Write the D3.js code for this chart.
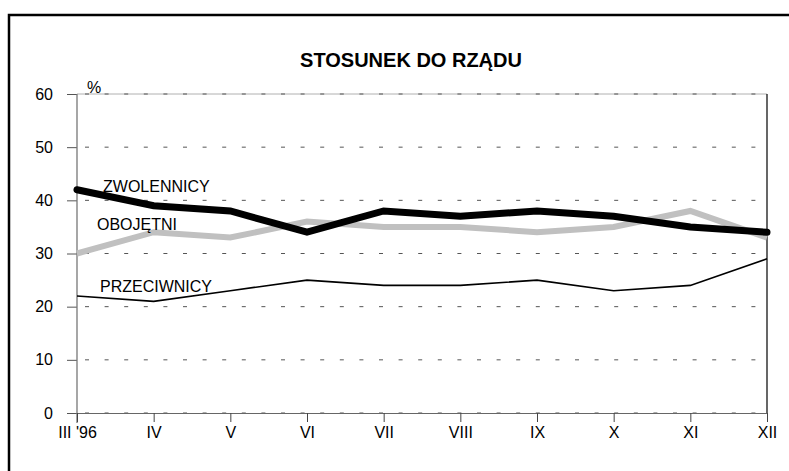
<!DOCTYPE html>
<html>
<head>
<meta charset="utf-8">
<script src="https://cdn.jsdelivr.net/npm/d3@7/dist/d3.min.js"></script>
<style>
    body { margin: 0; background: #fff; }
    text { font-family: "Liberation Sans", Arial, sans-serif; }
</style>
</head>
<body>
<svg id="chart" width="789" height="471"></svg>
<script>
let months = ["III '96", "IV", "V", "VI", "VII", "VIII", "IX", "X", "XI", "XII"];
let zwolennicy = [42, 39, 38, 34, 38, 37, 38, 37, 35, 34];
let obojetni = [30, 34, 33, 36, 35, 35, 34, 35, 38, 33];
let przeciwnicy = [22, 21, 23, 25, 24, 24, 25, 23, 24, 29];
let yTicks = [0, 10, 20, 30, 40, 50, 60];

let svg = d3.select("#chart");

// outer frame (runs off the right and bottom of the picture)
svg.append("rect")
    .attr("x", 9).attr("y", 15)
    .attr("width", 800).attr("height", 480)
    .attr("fill", "none")
    .attr("stroke", "black")
    .attr("stroke-width", 2.5);

let pLeft = 77, pRight = 767, pTop = 94, pBottom = 413;

let x = d3.scalePoint().domain(months).range([pLeft, pRight]);
let y = d3.scaleLinear().domain([0, 60]).range([pBottom, pTop]);

svg.append("text")
    .attr("x", 411).attr("y", 67)
    .attr("text-anchor", "middle")
    .attr("font-size", 20)
    .attr("font-weight", "bold")
    .text("STOSUNEK DO RZĄDU");

// plot border
svg.append("line")
    .attr("x1", pLeft).attr("x2", pRight)
    .attr("y1", pTop).attr("y2", pTop)
    .attr("stroke", "#b0b0b0").attr("stroke-width", 1);
svg.append("line")
    .attr("x1", pRight).attr("x2", pRight)
    .attr("y1", pTop).attr("y2", pBottom)
    .attr("stroke", "black").attr("stroke-width", 1.2);

// dashed grid
svg.append("g")
    .selectAll("line")
    .data(yTicks)
    .enter().append("line")
    .attr("x1", pLeft).attr("x2", pRight)
    .attr("y1", d => y(d)).attr("y2", d => y(d))
    .attr("stroke", "#555")
    .attr("stroke-width", 1)
    .attr("stroke-dasharray", "4,15.6")
    .attr("stroke-dashoffset", -8);

// y axis
let yAxis = svg.append("g")
    .attr("transform", `translate(${pLeft},0)`)
    .call(d3.axisLeft(y).tickValues(yTicks).tickSize(10).tickPadding(14));
yAxis.select(".domain").remove();
yAxis.selectAll(".tick line").attr("stroke", "#555");
yAxis.selectAll("text")
    .attr("font-size", 16)
    .attr("font-family", "Liberation Sans, Arial, sans-serif")
    .attr("fill", "black");
svg.append("line")
    .attr("x1", pLeft).attr("x2", pLeft)
    .attr("y1", pTop).attr("y2", pBottom + 10)
    .attr("stroke", "#777").attr("stroke-width", 1.3);

// x axis
let xAxis = svg.append("g")
    .attr("transform", `translate(0,${pBottom})`)
    .call(d3.axisBottom(x).tickSize(9).tickPadding(5));
xAxis.select(".domain")
    .attr("d", `M${pLeft},0.5H${pRight}`)
    .attr("stroke", "#666");
xAxis.selectAll(".tick line").attr("stroke", "#444");
xAxis.selectAll("text")
    .attr("font-size", 16)
    .attr("font-family", "Liberation Sans, Arial, sans-serif")
    .attr("fill", "black");

svg.append("text")
    .attr("x", 87).attr("y", 93)
    .attr("font-size", 16)
    .text("%");

let line = d3.line()
    .x((d, i) => x(months[i]))
    .y(d => y(d));

svg.append("path")
    .datum(przeciwnicy)
    .attr("d", line)
    .attr("fill", "none")
    .attr("stroke", "black")
    .attr("stroke-width", 1.6);

svg.append("path")
    .datum(obojetni)
    .attr("d", line)
    .attr("fill", "none")
    .attr("stroke", "#c0c0c0")
    .attr("stroke-width", 6);

svg.append("path")
    .datum(zwolennicy)
    .attr("d", line)
    .attr("fill", "none")
    .attr("stroke", "black")
    .attr("stroke-width", 7)
    .attr("stroke-linecap", "round");

let labels = [
    {text: "ZWOLENNICY", x: 103, y: 192},
    {text: "OBOJĘTNI", x: 97, y: 230},
    {text: "PRZECIWNICY", x: 100, y: 292}
];
svg.append("g")
    .selectAll("text")
    .data(labels)
    .enter().append("text")
    .attr("x", d => d.x).attr("y", d => d.y)
    .attr("font-size", 16)
    .text(d => d.text);
</script>
</body>
</html>
